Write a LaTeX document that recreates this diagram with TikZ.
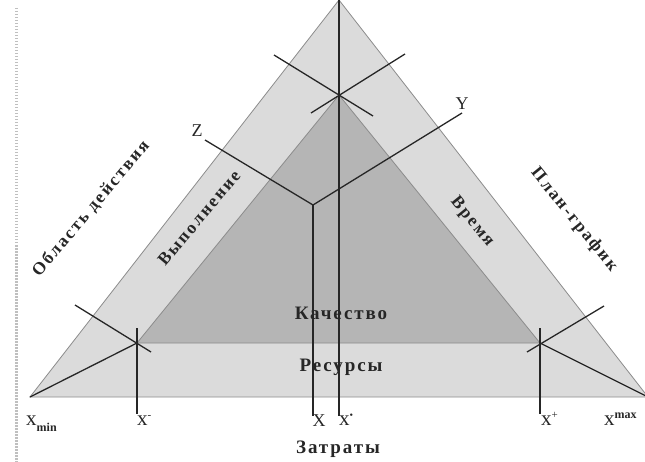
\documentclass[tikz,border=0pt]{standalone}
\usepackage{fontspec}
\setmainfont{Liberation Serif}
\newfontfamily\lblfont[LetterSpace=10]{Liberation Serif}
\newfontfamily\sidefont[LetterSpace=12]{Liberation Serif}
\begin{document}
\begin{tikzpicture}[x=1pt,y=-1pt,
  edgeline/.style={draw=black!45,line width=0.8pt},
  axisline/.style={draw=black!85,line width=1.3pt},
  bigtxt/.style={font=\lblfont\fontsize{19}{21}\selectfont\bfseries,text=black!85,inner sep=0pt},
  sidetxt/.style={font=\sidefont\fontsize{17.5}{19}\selectfont\bfseries,text=black!85,inner sep=0pt},
  axlabel/.style={font=\fontsize{18}{20}\selectfont,text=black!85,inner sep=0pt},
  smalllabel/.style={font=\fontsize{21}{23}\selectfont,text=black!85,inner sep=0pt}]
\useasboundingbox (0,0) rectangle (645,462);
\begin{scope}
\clip (0,0) rectangle (645,462);
% scan border
\draw[black!25,line width=3pt,dash pattern=on 1.5pt off 1.5pt] (16,8) -- (16,462);
% triangles
\coordinate (OL) at (30,397);
\coordinate (OR) at (648,397);
\coordinate (OT) at (339,0);
\coordinate (IL) at (137,343);
\coordinate (IR) at (540,343);
\coordinate (IT) at (339,95);
\fill[black!14] (OL) -- (OR) -- (OT) -- cycle;
\fill[black!29] (IL) -- (IR) -- (IT) -- cycle;
\draw[edgeline] (OL) -- (OR) -- (OT) -- cycle;
\draw[edgeline] (IL) -- (IR) -- (IT) -- cycle;
% axes
\coordinate (C) at (313,205);
\coordinate (Zend) at (205,140);
\coordinate (Yend) at (462,113);
\coordinate (Xbot) at (313,416);
\coordinate (Stop) at (339,-2);
\coordinate (Sbot) at (339,416);
\draw[axisline] (Zend) -- (C) -- (Yend);
\draw[axisline] (C) -- (Xbot);
\draw[axisline] (Stop) -- (Sbot);
% top cross
\coordinate (TA1) at (274,55);
\coordinate (TA2) at (373,116);
\coordinate (TB1) at (405,54);
\coordinate (TB2) at (311,113);
\draw[axisline] (TA1) -- (TA2);
\draw[axisline] (TB1) -- (TB2);
% bottom-left cross
\coordinate (LA1) at (75,305);
\coordinate (LA2) at (151,352);
\coordinate (LV1) at (137,328);
\coordinate (LV2) at (137,414);
\draw[axisline] (LA1) -- (LA2);
\draw[axisline] (OL) -- (IL);
\draw[axisline] (LV1) -- (LV2);
% bottom-right cross
\coordinate (RA1) at (527,352);
\coordinate (RA2) at (604,306);
\coordinate (RV1) at (540,328);
\coordinate (RV2) at (540,414);
\draw[axisline] (RA1) -- (RA2);
\draw[axisline] (OR) -- (IR);
\draw[axisline] (RV1) -- (RV2);
% texts
\node[bigtxt] (kach) at (341,313) {Качество};
\node[bigtxt] (res) at (341,367) {Ресурсы};
\node[bigtxt] (zat) at (338,449) {Затраты};
\node[sidetxt,rotate=50] (obl) at (91,209) {Область действия};
\node[sidetxt,rotate=50] (vyp) at (199,218) {Выполнение};
\node[sidetxt,rotate=-51] (vr) at (472,222) {Время};
\node[sidetxt,rotate=-51] (plan) at (574,220) {План-график};
\node[axlabel] (zl) at (197,131) {Z};
\node[axlabel] (yl) at (462,104) {Y};
\node[axlabel] (xl) at (319,421) {X};
\node[smalllabel,anchor=base west] (xmin) at (26,425) {x\raisebox{-6pt}{\fontsize{12}{13}\selectfont\bfseries min}};
\node[smalllabel,anchor=base west] (xminus) at (137,425) {x\raisebox{7pt}{\fontsize{11}{11}\selectfont -}};
\node[smalllabel,anchor=base west] (xstar) at (339,425) {x\raisebox{7pt}{\fontsize{10}{10}\selectfont •}};
\node[smalllabel,anchor=base west] (xplus) at (541,425) {x\raisebox{7pt}{\fontsize{11}{11}\selectfont +}};
\node[smalllabel,anchor=base west] (xmax) at (604,425) {x\raisebox{7pt}{\fontsize{12}{13}\selectfont\bfseries max}};
\end{scope}
\end{tikzpicture}
\end{document}
